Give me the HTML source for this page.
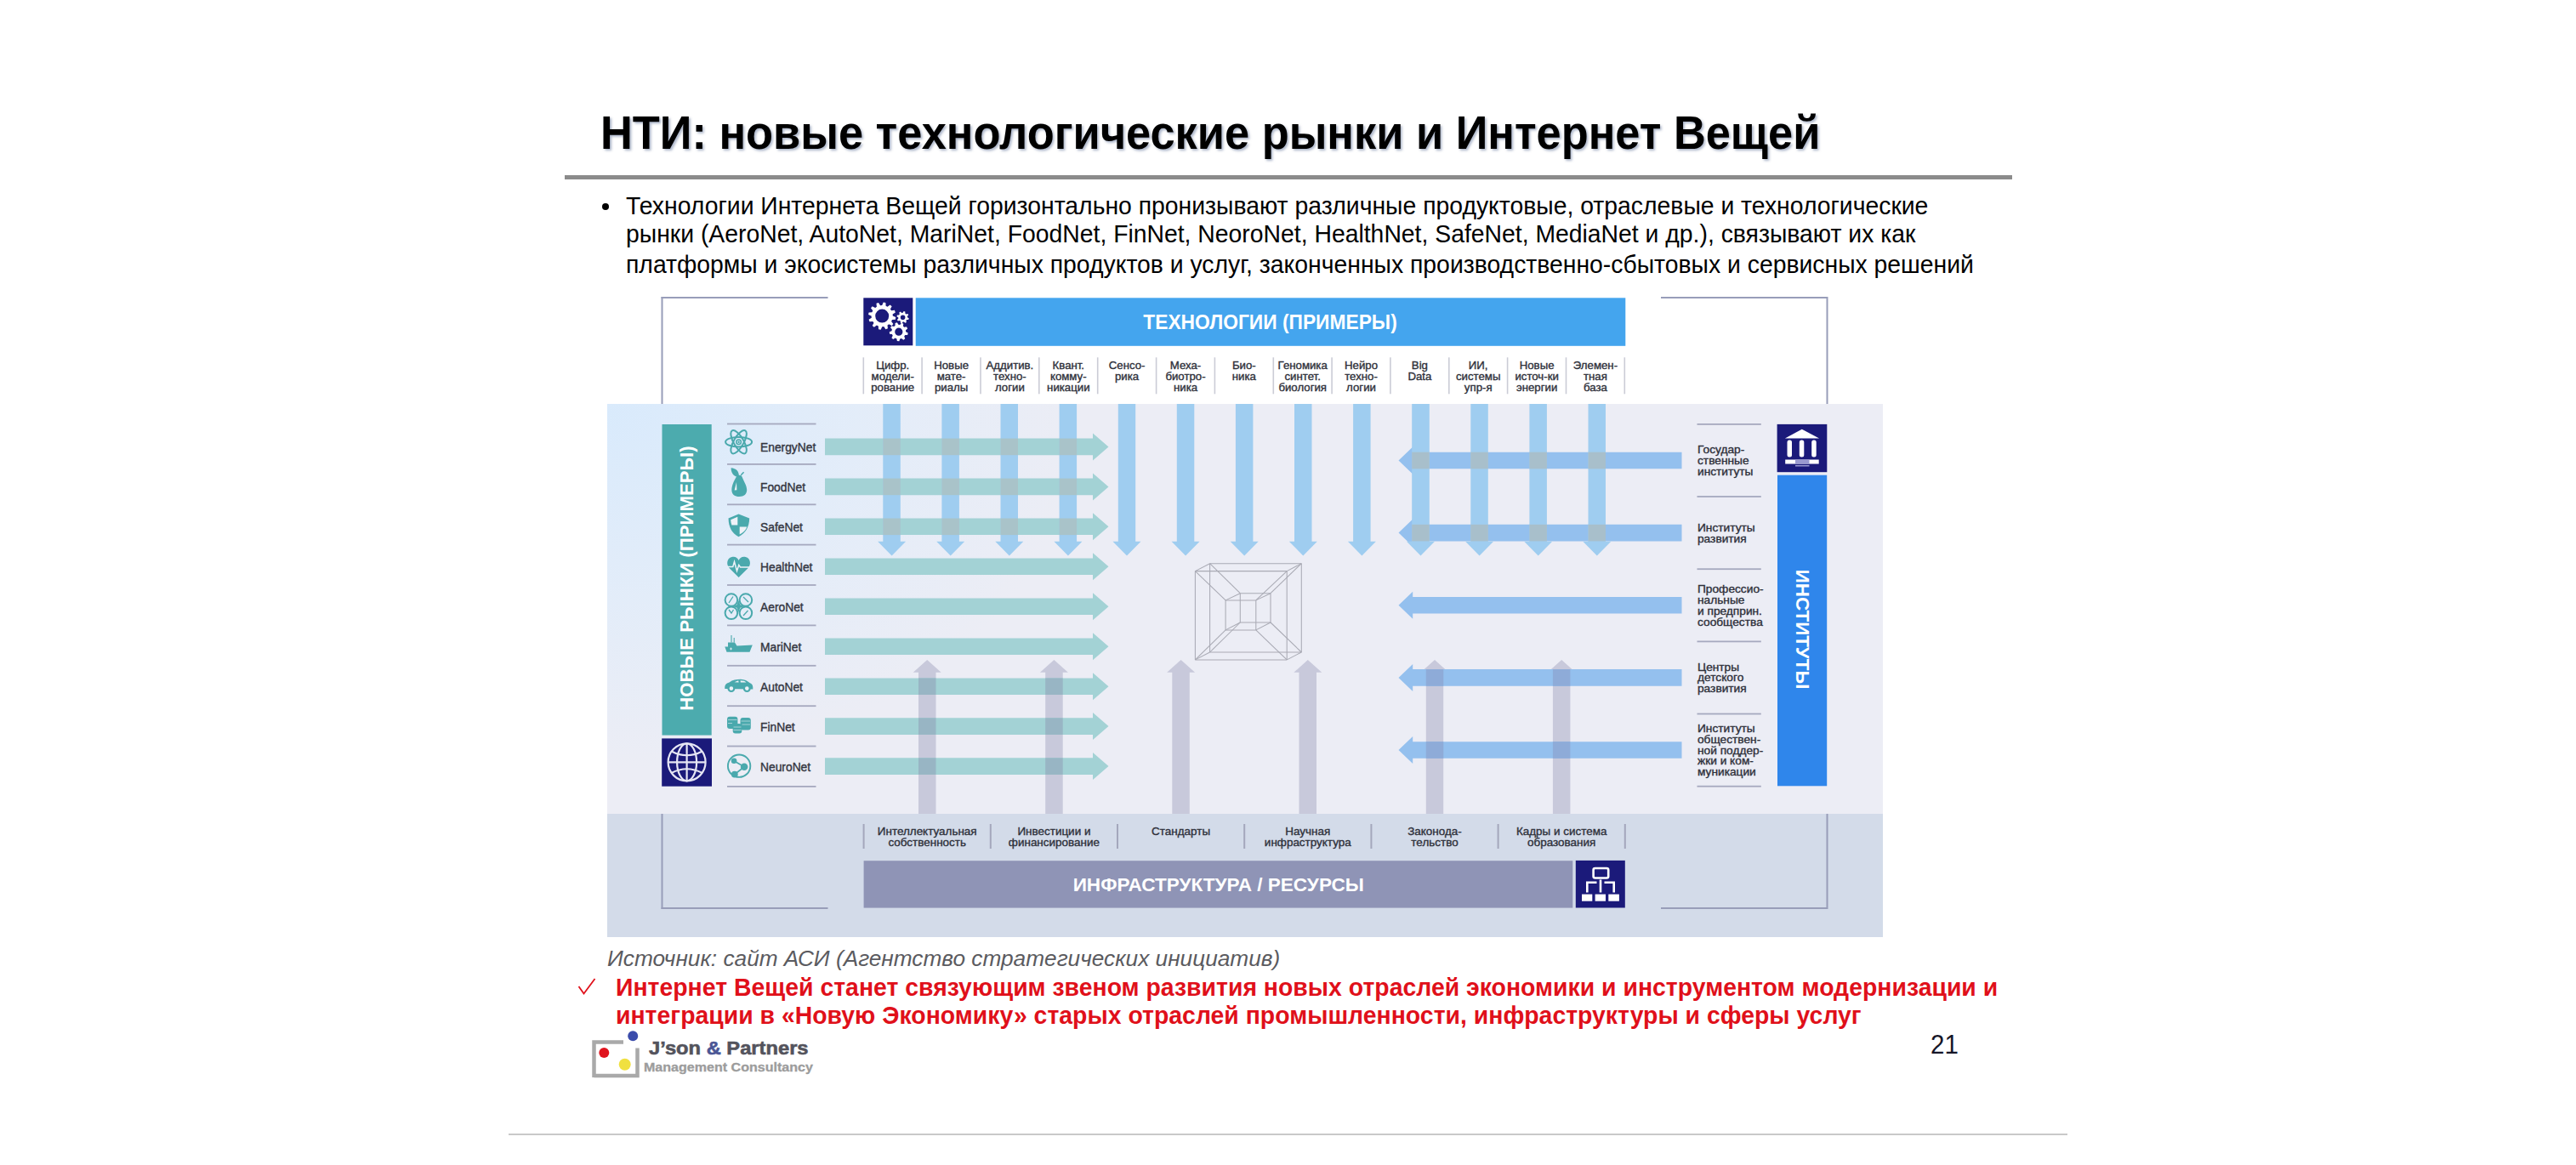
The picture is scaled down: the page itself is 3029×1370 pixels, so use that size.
<!DOCTYPE html>
<html><head><meta charset="utf-8"><style>
html,body{margin:0;padding:0;}
body{width:3029px;height:1370px;overflow:hidden;background:#fff;position:relative;font-family:"Liberation Sans",sans-serif;}
.abs{position:absolute;}
.t{position:absolute;white-space:nowrap;line-height:1;}
svg text{font-family:"Liberation Sans",sans-serif;}
</style></head><body>

<div class="t" style="left:706.0px;top:129.0px;font-size:55px;font-weight:bold;color:#000;text-shadow:2px 2px 3px rgba(90,110,150,0.5);transform:scaleX(0.952);transform-origin:0 0;">НТИ: новые технологические рынки и Интернет Вещей</div>
<div class="abs" style="left:664px;top:206px;width:1702px;height:5px;background:#8b8b8b;"></div>
<div class="abs" style="left:708px;top:238.5px;width:8px;height:8px;border-radius:50%;background:#000;"></div>
<div class="t" style="left:736.0px;top:227.2px;font-size:30.2px;font-weight:normal;color:#000;transform:scaleX(0.939);transform-origin:0 0;">Технологии Интернета Вещей горизонтально пронизывают различные продуктовые, отраслевые и технологические</div>
<div class="t" style="left:736.0px;top:259.9px;font-size:30.2px;font-weight:normal;color:#000;transform:scaleX(0.939);transform-origin:0 0;">рынки (AeroNet, AutoNet, MariNet, FoodNet, FinNet, NeoroNet, HealthNet, SafeNet, MediaNet и др.), связывают их как</div>
<div class="t" style="left:736.0px;top:295.6px;font-size:30.2px;font-weight:normal;color:#000;transform:scaleX(0.939);transform-origin:0 0;">платформы и экосистемы различных продуктов и услуг, законченных производственно-сбытовых и сервисных решений</div>
<div class="abs" style="left:713.5px;top:475px;width:1500.5px;height:482px;background:#ecedf5;overflow:hidden;"><div style="position:absolute;left:-560px;top:-410px;width:1120px;height:840px;background:radial-gradient(closest-side,rgba(216,234,252,0.95),rgba(220,236,252,0.6) 50%,rgba(236,237,245,0) 100%);"></div></div>
<div class="abs" style="left:713.5px;top:957px;width:1500.5px;height:145px;background:#d3dbe9;"></div>
<svg class="abs" style="left:0;top:0;" width="3029" height="1370">
<rect x="777.5" y="349" width="196" height="2" fill="#989db9"/>
<rect x="777.5" y="349" width="2" height="126" fill="#989db9"/>
<rect x="777.5" y="957" width="2" height="112" fill="#989db9"/>
<rect x="777.5" y="1067" width="196" height="2" fill="#989db9"/>
<rect x="1953" y="349" width="196" height="2" fill="#989db9"/>
<rect x="2147.5" y="349" width="2" height="126" fill="#989db9"/>
<rect x="2147.5" y="957" width="2" height="112" fill="#989db9"/>
<rect x="1953" y="1067" width="196" height="2" fill="#989db9"/>
<rect x="1015.3" y="350.3" width="58" height="56" fill="#1b1a7a"/>
<rect x="1076.7" y="350.3" width="834.6" height="56.5" fill="#44a5ee"/>
<text transform="translate(1493.5,386.5) scale(0.97,1)" text-anchor="middle" font-size="23.5" font-weight="bold" fill="#fff">ТЕХНОЛОГИИ (ПРИМЕРЫ)</text>
<path d="M1049.80,371.60 L1053.33,373.12 L1052.85,375.79 L1049.01,375.99 L1048.11,377.90 L1050.41,380.98 L1048.66,383.06 L1045.23,381.31 L1043.50,382.51 L1043.94,386.33 L1041.39,387.25 L1039.30,384.02 L1037.20,384.20 L1035.68,387.73 L1033.01,387.25 L1032.81,383.41 L1030.90,382.51 L1027.82,384.81 L1025.74,383.06 L1027.49,379.63 L1026.29,377.90 L1022.47,378.34 L1021.55,375.79 L1024.78,373.70 L1024.60,371.60 L1021.07,370.08 L1021.55,367.41 L1025.39,367.21 L1026.29,365.30 L1023.99,362.22 L1025.74,360.14 L1029.17,361.89 L1030.90,360.69 L1030.46,356.87 L1033.01,355.95 L1035.10,359.18 L1037.20,359.00 L1038.72,355.47 L1041.39,355.95 L1041.59,359.79 L1043.50,360.69 L1046.58,358.39 L1048.66,360.14 L1046.91,363.57 L1048.11,365.30 L1051.93,364.86 L1052.85,367.41 L1049.62,369.50Z M1045.20,371.60 A8.0,8.0 0 1,0 1029.20,371.60 A8.0,8.0 0 1,0 1045.20,371.60Z" fill="#fff" fill-rule="evenodd"/>
<path d="M1067.00,373.20 L1068.73,374.21 L1068.25,375.96 L1066.25,375.95 L1065.42,377.02 L1065.92,378.96 L1064.36,379.85 L1062.94,378.43 L1061.60,378.60 L1060.59,380.33 L1058.84,379.85 L1058.85,377.85 L1057.78,377.02 L1055.84,377.52 L1054.95,375.96 L1056.37,374.54 L1056.20,373.20 L1054.47,372.19 L1054.95,370.44 L1056.95,370.45 L1057.78,369.38 L1057.28,367.44 L1058.84,366.55 L1060.26,367.97 L1061.60,367.80 L1062.61,366.07 L1064.36,366.55 L1064.35,368.55 L1065.42,369.38 L1067.36,368.88 L1068.25,370.44 L1066.83,371.86Z M1064.40,373.20 A2.8,2.8 0 1,0 1058.80,373.20 A2.8,2.8 0 1,0 1064.40,373.20Z" fill="#fff" fill-rule="evenodd"/>
<path d="M1065.20,390.20 L1067.71,391.58 L1067.14,393.96 L1064.27,394.04 L1063.23,395.60 L1064.27,398.27 L1062.30,399.73 L1060.06,397.94 L1058.26,398.47 L1057.34,401.19 L1054.89,401.03 L1054.32,398.22 L1052.60,397.47 L1050.15,398.96 L1048.37,397.27 L1049.74,394.75 L1048.91,393.07 L1046.07,392.64 L1045.80,390.20 L1048.47,389.15 L1048.91,387.33 L1047.02,385.17 L1048.37,383.13 L1051.09,384.04 L1052.60,382.93 L1052.54,380.06 L1054.89,379.37 L1056.39,381.81 L1058.26,381.93 L1060.05,379.69 L1062.30,380.67 L1061.88,383.51 L1063.23,384.80 L1066.05,384.24 L1067.14,386.44 L1064.99,388.34Z M1061.40,390.20 A4.6,4.6 0 1,0 1052.20,390.20 A4.6,4.6 0 1,0 1061.40,390.20Z" fill="#fff" fill-rule="evenodd"/>
<rect x="1014.5" y="420.3" width="1.6" height="43" fill="#cbccd6"/>
<rect x="1083.3" y="420.3" width="1.6" height="43" fill="#cbccd6"/>
<rect x="1152.2" y="420.3" width="1.6" height="43" fill="#cbccd6"/>
<rect x="1221.0" y="420.3" width="1.6" height="43" fill="#cbccd6"/>
<rect x="1289.9" y="420.3" width="1.6" height="43" fill="#cbccd6"/>
<rect x="1358.8" y="420.3" width="1.6" height="43" fill="#cbccd6"/>
<rect x="1427.6" y="420.3" width="1.6" height="43" fill="#cbccd6"/>
<rect x="1496.5" y="420.3" width="1.6" height="43" fill="#cbccd6"/>
<rect x="1565.3" y="420.3" width="1.6" height="43" fill="#cbccd6"/>
<rect x="1634.1" y="420.3" width="1.6" height="43" fill="#cbccd6"/>
<rect x="1703.0" y="420.3" width="1.6" height="43" fill="#cbccd6"/>
<rect x="1771.8" y="420.3" width="1.6" height="43" fill="#cbccd6"/>
<rect x="1840.7" y="420.3" width="1.6" height="43" fill="#cbccd6"/>
<rect x="1909.5" y="420.3" width="1.6" height="43" fill="#cbccd6"/>
<text transform="translate(1049.7,434.4) scale(1.05,1)" text-anchor="middle" font-size="12.6" font-weight="normal" fill="#2e303a" stroke="#2e303a" stroke-width="0.35">Цифр.</text>
<text transform="translate(1049.7,447.2) scale(1.05,1)" text-anchor="middle" font-size="12.6" font-weight="normal" fill="#2e303a" stroke="#2e303a" stroke-width="0.35">модели-</text>
<text transform="translate(1049.7,460.0) scale(1.05,1)" text-anchor="middle" font-size="12.6" font-weight="normal" fill="#2e303a" stroke="#2e303a" stroke-width="0.35">рование</text>
<text transform="translate(1118.6,434.4) scale(1.05,1)" text-anchor="middle" font-size="12.6" font-weight="normal" fill="#2e303a" stroke="#2e303a" stroke-width="0.35">Новые</text>
<text transform="translate(1118.6,447.2) scale(1.05,1)" text-anchor="middle" font-size="12.6" font-weight="normal" fill="#2e303a" stroke="#2e303a" stroke-width="0.35">мате-</text>
<text transform="translate(1118.6,460.0) scale(1.05,1)" text-anchor="middle" font-size="12.6" font-weight="normal" fill="#2e303a" stroke="#2e303a" stroke-width="0.35">риалы</text>
<text transform="translate(1187.4,434.4) scale(1.05,1)" text-anchor="middle" font-size="12.6" font-weight="normal" fill="#2e303a" stroke="#2e303a" stroke-width="0.35">Аддитив.</text>
<text transform="translate(1187.4,447.2) scale(1.05,1)" text-anchor="middle" font-size="12.6" font-weight="normal" fill="#2e303a" stroke="#2e303a" stroke-width="0.35">техно-</text>
<text transform="translate(1187.4,460.0) scale(1.05,1)" text-anchor="middle" font-size="12.6" font-weight="normal" fill="#2e303a" stroke="#2e303a" stroke-width="0.35">логии</text>
<text transform="translate(1256.3,434.4) scale(1.05,1)" text-anchor="middle" font-size="12.6" font-weight="normal" fill="#2e303a" stroke="#2e303a" stroke-width="0.35">Квант.</text>
<text transform="translate(1256.3,447.2) scale(1.05,1)" text-anchor="middle" font-size="12.6" font-weight="normal" fill="#2e303a" stroke="#2e303a" stroke-width="0.35">комму-</text>
<text transform="translate(1256.3,460.0) scale(1.05,1)" text-anchor="middle" font-size="12.6" font-weight="normal" fill="#2e303a" stroke="#2e303a" stroke-width="0.35">никации</text>
<text transform="translate(1325.1,434.4) scale(1.05,1)" text-anchor="middle" font-size="12.6" font-weight="normal" fill="#2e303a" stroke="#2e303a" stroke-width="0.35">Сенсо-</text>
<text transform="translate(1325.1,447.2) scale(1.05,1)" text-anchor="middle" font-size="12.6" font-weight="normal" fill="#2e303a" stroke="#2e303a" stroke-width="0.35">рика</text>
<text transform="translate(1394.0,434.4) scale(1.05,1)" text-anchor="middle" font-size="12.6" font-weight="normal" fill="#2e303a" stroke="#2e303a" stroke-width="0.35">Меха-</text>
<text transform="translate(1394.0,447.2) scale(1.05,1)" text-anchor="middle" font-size="12.6" font-weight="normal" fill="#2e303a" stroke="#2e303a" stroke-width="0.35">биотро-</text>
<text transform="translate(1394.0,460.0) scale(1.05,1)" text-anchor="middle" font-size="12.6" font-weight="normal" fill="#2e303a" stroke="#2e303a" stroke-width="0.35">ника</text>
<text transform="translate(1462.8,434.4) scale(1.05,1)" text-anchor="middle" font-size="12.6" font-weight="normal" fill="#2e303a" stroke="#2e303a" stroke-width="0.35">Био-</text>
<text transform="translate(1462.8,447.2) scale(1.05,1)" text-anchor="middle" font-size="12.6" font-weight="normal" fill="#2e303a" stroke="#2e303a" stroke-width="0.35">ника</text>
<text transform="translate(1531.7,434.4) scale(1.05,1)" text-anchor="middle" font-size="12.6" font-weight="normal" fill="#2e303a" stroke="#2e303a" stroke-width="0.35">Геномика</text>
<text transform="translate(1531.7,447.2) scale(1.05,1)" text-anchor="middle" font-size="12.6" font-weight="normal" fill="#2e303a" stroke="#2e303a" stroke-width="0.35">синтет.</text>
<text transform="translate(1531.7,460.0) scale(1.05,1)" text-anchor="middle" font-size="12.6" font-weight="normal" fill="#2e303a" stroke="#2e303a" stroke-width="0.35">биология</text>
<text transform="translate(1600.5,434.4) scale(1.05,1)" text-anchor="middle" font-size="12.6" font-weight="normal" fill="#2e303a" stroke="#2e303a" stroke-width="0.35">Нейро</text>
<text transform="translate(1600.5,447.2) scale(1.05,1)" text-anchor="middle" font-size="12.6" font-weight="normal" fill="#2e303a" stroke="#2e303a" stroke-width="0.35">техно-</text>
<text transform="translate(1600.5,460.0) scale(1.05,1)" text-anchor="middle" font-size="12.6" font-weight="normal" fill="#2e303a" stroke="#2e303a" stroke-width="0.35">логии</text>
<text transform="translate(1669.4,434.4) scale(1.05,1)" text-anchor="middle" font-size="12.6" font-weight="normal" fill="#2e303a" stroke="#2e303a" stroke-width="0.35">Big</text>
<text transform="translate(1669.4,447.2) scale(1.05,1)" text-anchor="middle" font-size="12.6" font-weight="normal" fill="#2e303a" stroke="#2e303a" stroke-width="0.35">Data</text>
<text transform="translate(1738.2,434.4) scale(1.05,1)" text-anchor="middle" font-size="12.6" font-weight="normal" fill="#2e303a" stroke="#2e303a" stroke-width="0.35">ИИ,</text>
<text transform="translate(1738.2,447.2) scale(1.05,1)" text-anchor="middle" font-size="12.6" font-weight="normal" fill="#2e303a" stroke="#2e303a" stroke-width="0.35">системы</text>
<text transform="translate(1738.2,460.0) scale(1.05,1)" text-anchor="middle" font-size="12.6" font-weight="normal" fill="#2e303a" stroke="#2e303a" stroke-width="0.35">упр-я</text>
<text transform="translate(1807.1,434.4) scale(1.05,1)" text-anchor="middle" font-size="12.6" font-weight="normal" fill="#2e303a" stroke="#2e303a" stroke-width="0.35">Новые</text>
<text transform="translate(1807.1,447.2) scale(1.05,1)" text-anchor="middle" font-size="12.6" font-weight="normal" fill="#2e303a" stroke="#2e303a" stroke-width="0.35">источ-ки</text>
<text transform="translate(1807.1,460.0) scale(1.05,1)" text-anchor="middle" font-size="12.6" font-weight="normal" fill="#2e303a" stroke="#2e303a" stroke-width="0.35">энергии</text>
<text transform="translate(1875.9,434.4) scale(1.05,1)" text-anchor="middle" font-size="12.6" font-weight="normal" fill="#2e303a" stroke="#2e303a" stroke-width="0.35">Элемен-</text>
<text transform="translate(1875.9,447.2) scale(1.05,1)" text-anchor="middle" font-size="12.6" font-weight="normal" fill="#2e303a" stroke="#2e303a" stroke-width="0.35">тная</text>
<text transform="translate(1875.9,460.0) scale(1.05,1)" text-anchor="middle" font-size="12.6" font-weight="normal" fill="#2e303a" stroke="#2e303a" stroke-width="0.35">база</text>
<polygon points="1080.0,957 1100.5,957 1100.5,790.8 1106.7,790.8 1090.2,776 1073.7,790.8 1080.0,790.8" fill="#c8c9db"/>
<polygon points="1229.2,957 1249.7,957 1249.7,790.8 1255.9,790.8 1239.4,776 1222.9,790.8 1229.2,790.8" fill="#c8c9db"/>
<polygon points="1378.3,957 1398.8,957 1398.8,790.8 1405.1,790.8 1388.6,776 1372.1,790.8 1378.3,790.8" fill="#c8c9db"/>
<polygon points="1527.5,957 1548.0,957 1548.0,790.8 1554.3,790.8 1537.8,776 1521.3,790.8 1527.5,790.8" fill="#c8c9db"/>
<polygon points="1676.8,957 1697.2,957 1697.2,790.8 1703.5,790.8 1687.0,776 1670.5,790.8 1676.8,790.8" fill="#c8c9db"/>
<polygon points="1825.9,957 1846.4,957 1846.4,790.8 1852.7,790.8 1836.2,776 1819.7,790.8 1825.9,790.8" fill="#c8c9db"/>
<polygon points="970,515.6 1285,515.6 1285,509.4 1303.5,525.4 1285,541.4 1285,535.2 970,535.2" fill="#a3d2d5"/>
<polygon points="970,562.6 1285,562.6 1285,556.4 1303.5,572.4 1285,588.4 1285,582.2 970,582.2" fill="#a3d2d5"/>
<polygon points="970,609.5 1285,609.5 1285,603.3 1303.5,619.3 1285,635.3 1285,629.1 970,629.1" fill="#a3d2d5"/>
<polygon points="970,656.5 1285,656.5 1285,650.3 1303.5,666.3 1285,682.3 1285,676.1 970,676.1" fill="#a3d2d5"/>
<polygon points="970,703.4 1285,703.4 1285,697.2 1303.5,713.2 1285,729.2 1285,723.0 970,723.0" fill="#a3d2d5"/>
<polygon points="970,750.4 1285,750.4 1285,744.2 1303.5,760.2 1285,776.2 1285,770.0 970,770.0" fill="#a3d2d5"/>
<polygon points="970,797.4 1285,797.4 1285,791.2 1303.5,807.2 1285,823.2 1285,817.0 970,817.0" fill="#a3d2d5"/>
<polygon points="970,844.3 1285,844.3 1285,838.1 1303.5,854.1 1285,870.1 1285,863.9 970,863.9" fill="#a3d2d5"/>
<polygon points="970,891.3 1285,891.3 1285,885.1 1303.5,901.1 1285,917.1 1285,910.9 970,910.9" fill="#a3d2d5"/>
<polygon points="1977.5,531.7 1661.2,531.7 1661.2,525.5 1644.5,541.5 1661.2,557.5 1661.2,551.3 1977.5,551.3" fill="#94c0ee"/>
<polygon points="1977.5,616.8 1661.2,616.8 1661.2,610.6 1644.5,626.6 1661.2,642.6 1661.2,636.4 1977.5,636.4" fill="#94c0ee"/>
<polygon points="1977.5,701.9 1661.2,701.9 1661.2,695.7 1644.5,711.7 1661.2,727.7 1661.2,721.5 1977.5,721.5" fill="#94c0ee"/>
<polygon points="1977.5,787.1 1661.2,787.1 1661.2,780.9 1644.5,796.9 1661.2,812.9 1661.2,806.7 1977.5,806.7" fill="#94c0ee"/>
<polygon points="1977.5,872.2 1661.2,872.2 1661.2,866.0 1644.5,882.0 1661.2,898.0 1661.2,891.8 1977.5,891.8" fill="#94c0ee"/>
<polygon points="1038.3,475 1058.8,475 1058.8,636.8 1065.1,636.8 1048.6,653.5 1032.1,636.8 1038.3,636.8" fill="#9fcdf0"/>
<polygon points="1107.4,475 1127.9,475 1127.9,636.8 1134.2,636.8 1117.7,653.5 1101.2,636.8 1107.4,636.8" fill="#9fcdf0"/>
<polygon points="1176.5,475 1197.0,475 1197.0,636.8 1203.3,636.8 1186.8,653.5 1170.3,636.8 1176.5,636.8" fill="#9fcdf0"/>
<polygon points="1245.6,475 1266.1,475 1266.1,636.8 1272.4,636.8 1255.9,653.5 1239.4,636.8 1245.6,636.8" fill="#9fcdf0"/>
<polygon points="1314.8,475 1335.2,475 1335.2,636.8 1341.5,636.8 1325.0,653.5 1308.5,636.8 1314.8,636.8" fill="#9fcdf0"/>
<polygon points="1383.8,475 1404.3,475 1404.3,636.8 1410.6,636.8 1394.1,653.5 1377.6,636.8 1383.8,636.8" fill="#9fcdf0"/>
<polygon points="1452.9,475 1473.4,475 1473.4,636.8 1479.7,636.8 1463.2,653.5 1446.7,636.8 1452.9,636.8" fill="#9fcdf0"/>
<polygon points="1522.0,475 1542.5,475 1542.5,636.8 1548.8,636.8 1532.3,653.5 1515.8,636.8 1522.0,636.8" fill="#9fcdf0"/>
<polygon points="1591.1,475 1611.6,475 1611.6,636.8 1617.9,636.8 1601.4,653.5 1584.9,636.8 1591.1,636.8" fill="#9fcdf0"/>
<polygon points="1660.2,475 1680.8,475 1680.8,636.8 1687.0,636.8 1670.5,653.5 1654.0,636.8 1660.2,636.8" fill="#9fcdf0"/>
<polygon points="1729.3,475 1749.8,475 1749.8,636.8 1756.1,636.8 1739.6,653.5 1723.1,636.8 1729.3,636.8" fill="#9fcdf0"/>
<polygon points="1798.4,475 1818.9,475 1818.9,636.8 1825.2,636.8 1808.7,653.5 1792.2,636.8 1798.4,636.8" fill="#9fcdf0"/>
<polygon points="1867.5,475 1888.0,475 1888.0,636.8 1894.3,636.8 1877.8,653.5 1861.3,636.8 1867.5,636.8" fill="#9fcdf0"/>
<rect x="1038.3" y="515.6" width="20.5" height="19.6" fill="#a9c3c9"/>
<rect x="1038.3" y="562.6" width="20.5" height="19.6" fill="#a9c3c9"/>
<rect x="1038.3" y="609.5" width="20.5" height="19.6" fill="#a9c3c9"/>
<rect x="1107.4" y="515.6" width="20.5" height="19.6" fill="#a9c3c9"/>
<rect x="1107.4" y="562.6" width="20.5" height="19.6" fill="#a9c3c9"/>
<rect x="1107.4" y="609.5" width="20.5" height="19.6" fill="#a9c3c9"/>
<rect x="1176.5" y="515.6" width="20.5" height="19.6" fill="#a9c3c9"/>
<rect x="1176.5" y="562.6" width="20.5" height="19.6" fill="#a9c3c9"/>
<rect x="1176.5" y="609.5" width="20.5" height="19.6" fill="#a9c3c9"/>
<rect x="1245.6" y="515.6" width="20.5" height="19.6" fill="#a9c3c9"/>
<rect x="1245.6" y="562.6" width="20.5" height="19.6" fill="#a9c3c9"/>
<rect x="1245.6" y="609.5" width="20.5" height="19.6" fill="#a9c3c9"/>
<rect x="1660.2" y="531.7" width="20.5" height="19.6" fill="#a8bfcb"/>
<rect x="1660.2" y="616.8" width="20.5" height="19.6" fill="#a8bfcb"/>
<rect x="1729.3" y="531.7" width="20.5" height="19.6" fill="#a8bfcb"/>
<rect x="1729.3" y="616.8" width="20.5" height="19.6" fill="#a8bfcb"/>
<rect x="1798.4" y="531.7" width="20.5" height="19.6" fill="#a8bfcb"/>
<rect x="1798.4" y="616.8" width="20.5" height="19.6" fill="#a8bfcb"/>
<rect x="1867.5" y="531.7" width="20.5" height="19.6" fill="#a8bfcb"/>
<rect x="1867.5" y="616.8" width="20.5" height="19.6" fill="#a8bfcb"/>
<rect x="1080.0" y="797.4" width="20.5" height="19.6" fill="#98b5c4"/>
<rect x="1080.0" y="844.3" width="20.5" height="19.6" fill="#98b5c4"/>
<rect x="1080.0" y="891.3" width="20.5" height="19.6" fill="#98b5c4"/>
<rect x="1229.2" y="797.4" width="20.5" height="19.6" fill="#98b5c4"/>
<rect x="1229.2" y="844.3" width="20.5" height="19.6" fill="#98b5c4"/>
<rect x="1229.2" y="891.3" width="20.5" height="19.6" fill="#98b5c4"/>
<rect x="1676.8" y="787.1" width="20.5" height="19.6" fill="#8eabd8"/>
<rect x="1676.8" y="872.2" width="20.5" height="19.6" fill="#8eabd8"/>
<rect x="1825.9" y="787.1" width="20.5" height="19.6" fill="#8eabd8"/>
<rect x="1825.9" y="872.2" width="20.5" height="19.6" fill="#8eabd8"/>
<g stroke="#a9aab4" stroke-width="1.05" fill="none">
<line x1="1405.4" y1="671.6" x2="1513.2" y2="671.6"/>
<line x1="1513.2" y1="671.6" x2="1513.2" y2="775.9"/>
<line x1="1513.2" y1="775.9" x2="1405.4" y2="775.9"/>
<line x1="1405.4" y1="775.9" x2="1405.4" y2="671.6"/>
<line x1="1422.6" y1="662.7" x2="1530.3" y2="662.7"/>
<line x1="1530.3" y1="662.7" x2="1530.3" y2="767.0"/>
<line x1="1530.3" y1="767.0" x2="1422.6" y2="767.0"/>
<line x1="1422.6" y1="767.0" x2="1422.6" y2="662.7"/>
<line x1="1441.1" y1="705.9" x2="1476.8" y2="705.9"/>
<line x1="1476.8" y1="705.9" x2="1476.8" y2="740.9"/>
<line x1="1476.8" y1="740.9" x2="1441.1" y2="740.9"/>
<line x1="1441.1" y1="740.9" x2="1441.1" y2="705.9"/>
<line x1="1458.3" y1="697.7" x2="1494.0" y2="697.7"/>
<line x1="1494.0" y1="697.7" x2="1494.0" y2="732.0"/>
<line x1="1494.0" y1="732.0" x2="1458.3" y2="732.0"/>
<line x1="1458.3" y1="732.0" x2="1458.3" y2="697.7"/>
<line x1="1405.4" y1="671.6" x2="1422.6" y2="662.7"/>
<line x1="1441.1" y1="705.9" x2="1458.3" y2="697.7"/>
<line x1="1405.4" y1="671.6" x2="1441.1" y2="705.9"/>
<line x1="1422.6" y1="662.7" x2="1458.3" y2="697.7"/>
<line x1="1513.2" y1="671.6" x2="1530.3" y2="662.7"/>
<line x1="1476.8" y1="705.9" x2="1494.0" y2="697.7"/>
<line x1="1513.2" y1="671.6" x2="1476.8" y2="705.9"/>
<line x1="1530.3" y1="662.7" x2="1494.0" y2="697.7"/>
<line x1="1513.2" y1="775.9" x2="1530.3" y2="767.0"/>
<line x1="1476.8" y1="740.9" x2="1494.0" y2="732.0"/>
<line x1="1513.2" y1="775.9" x2="1476.8" y2="740.9"/>
<line x1="1530.3" y1="767.0" x2="1494.0" y2="732.0"/>
<line x1="1405.4" y1="775.9" x2="1422.6" y2="767.0"/>
<line x1="1441.1" y1="740.9" x2="1458.3" y2="732.0"/>
<line x1="1405.4" y1="775.9" x2="1441.1" y2="740.9"/>
<line x1="1422.6" y1="767.0" x2="1458.3" y2="732.0"/>
</g>
<rect x="855" y="497.6" width="104.5" height="1.8" fill="#a6a9bf"/>
<rect x="855" y="545.0" width="104.5" height="1.8" fill="#a6a9bf"/>
<rect x="855" y="592.4" width="104.5" height="1.8" fill="#a6a9bf"/>
<rect x="855" y="639.7" width="104.5" height="1.8" fill="#a6a9bf"/>
<rect x="855" y="687.1" width="104.5" height="1.8" fill="#a6a9bf"/>
<rect x="855" y="734.5" width="104.5" height="1.8" fill="#a6a9bf"/>
<rect x="855" y="781.9" width="104.5" height="1.8" fill="#a6a9bf"/>
<rect x="855" y="829.3" width="104.5" height="1.8" fill="#a6a9bf"/>
<rect x="855" y="876.6" width="104.5" height="1.8" fill="#a6a9bf"/>
<rect x="855" y="924.0" width="104.5" height="1.8" fill="#a6a9bf"/>
<rect x="1995.5" y="498.0" width="75.3" height="1.8" fill="#a6a9bf"/>
<rect x="1995.5" y="583.1" width="75.3" height="1.8" fill="#a6a9bf"/>
<rect x="1995.5" y="668.3" width="75.3" height="1.8" fill="#a6a9bf"/>
<rect x="1995.5" y="753.5" width="75.3" height="1.8" fill="#a6a9bf"/>
<rect x="1995.5" y="838.6" width="75.3" height="1.8" fill="#a6a9bf"/>
<rect x="1995.5" y="923.8" width="75.3" height="1.8" fill="#a6a9bf"/>
<rect x="1014.6" y="969" width="2" height="29" fill="#a4a7bc"/>
<rect x="1163.8" y="969" width="2" height="29" fill="#a4a7bc"/>
<rect x="1313.0" y="969" width="2" height="29" fill="#a4a7bc"/>
<rect x="1462.2" y="969" width="2" height="29" fill="#a4a7bc"/>
<rect x="1611.4" y="969" width="2" height="29" fill="#a4a7bc"/>
<rect x="1760.6" y="969" width="2" height="29" fill="#a4a7bc"/>
<rect x="1909.8" y="969" width="2" height="29" fill="#a4a7bc"/>
<rect x="778.5" y="499" width="58.2" height="365.6" fill="#4cabae"/>
<text transform="translate(814.6,680) rotate(-90)" text-anchor="middle" font-size="22.2" font-weight="bold" fill="#fff">НОВЫЕ РЫНКИ (ПРИМЕРЫ)</text>
<rect x="778.2" y="868.4" width="58.8" height="56.3" fill="#1b1a7a"/>
<g stroke="#e6e6f4" stroke-width="2.2" fill="none"><circle cx="807.6" cy="896.3" r="22"/><ellipse cx="807.6" cy="896.3" rx="11.5" ry="22"/><line x1="807.6" y1="874.3" x2="807.6" y2="918.3"/><line x1="785.6" y1="896.3" x2="829.6" y2="896.3"/><path d="M789.5,883.5 Q807.6,893 825.7,883.5"/><path d="M789.5,909 Q807.6,899.5 825.7,909"/></g>
<g fill="none" stroke="#4aa9ad" stroke-width="2"><ellipse cx="868.6" cy="519.7" rx="15.5" ry="5.8"/><ellipse cx="868.6" cy="519.7" rx="15.5" ry="5.8" transform="rotate(60 868.6 519.7)"/><ellipse cx="868.6" cy="519.7" rx="15.5" ry="5.8" transform="rotate(120 868.6 519.7)"/><circle cx="868.6" cy="519.7" r="2.8" stroke-width="1.5"/></g><circle cx="868.6" cy="519.7" r="1.2" fill="#4aa9ad"/>
<path d="M866.5,559.5 C862,567 860.2,572 860.4,577 C860.7,581.5 864,584 869.3,584 C874.8,584 878.3,581 878.2,576 C878,570.5 874.5,566 872,559.5 C870,558.5 868,558.5 866.5,559.5 Z" fill="#4aa9ad"/><path d="M868.8,561 C862.5,560.5 859.5,556 859.6,550.2 C865.5,550.5 869.5,554.5 868.8,561 Z" fill="#4aa9ad"/><path d="M871.2,558.7 L874.6,555.2" stroke="#4aa9ad" stroke-width="1.5"/><path d="M866,567 L863.6,576.6 L866.4,576.2 Z" fill="#eef2f8"/>
<path d="M856.5,609.6 L868.5,604.6 L881.2,609.6 C881,620 876.5,627 868.5,631.2 C860.5,627 856.7,620 856.5,609.6 Z" fill="#4aa9ad"/><path d="M859.2,611.2 L867.3,607.8 L867.3,617.6 L860.4,617.6 C859.7,615.7 859.3,613.5 859.2,611.2 Z" fill="#eef2f8"/><path d="M869.7,619.6 L878.3,619.6 C876.8,623.8 873.8,626.6 869.7,628.6 Z" fill="#eef2f8"/>
<path d="M868.6,679 L858,668.5 C853.5,664 854.5,656.5 860.5,655 C864.5,654 867.3,656 868.6,659 C869.9,656 872.7,654 876.7,655 C882.7,656.5 883.7,664 879.2,668.5 Z" fill="#4aa9ad"/><path d="M855.5,666.5 L861.8,666.5 L863.5,660.5 L866.5,671.5 L868.8,664.5 L870.5,667 L881.5,667" stroke="#eef2f8" stroke-width="1.5" fill="none"/>
<g stroke="#4aa9ad" stroke-width="2" fill="none"><circle cx="859.9" cy="705.5" r="7.3"/><circle cx="876.9" cy="705.5" r="7.3"/><circle cx="859.9" cy="720.8" r="7.3"/><circle cx="876.9" cy="720.8" r="7.3"/></g><g stroke="#4aa9ad" stroke-width="1.3" fill="none"><path d="M857,709 L862,701.5 M874,702 L880,708 M857,717 L860,721 L862.5,717 M874,724 L879.5,718"/></g><path d="M868.4,706 L871,713 L868.4,720 L865.8,713 Z M861.5,713 L868.4,710.5 L875.3,713 L868.4,715.5 Z" fill="#4aa9ad"/>
<path d="M852.3,760.5 L856,760.5 L856,755.5 L864,755.5 L866.5,759.5 L884.8,758.5 L881.5,766.7 L854.5,766.7 Z" fill="#4aa9ad"/><path d="M860,755.5 L860,747 M863.2,755.5 L863.2,750" stroke="#4aa9ad" stroke-width="1.1"/><path d="M858,763 H861 M859.5,761.5 V764.5" stroke="#eef2f8" stroke-width="0.8"/>
<path d="M852.3,810 C852,805.5 853.5,803.5 857.5,802.5 C861.5,799.5 865.5,798.8 871,798.8 C875.5,798.8 879,801 881.5,803 C884.5,804 885.3,806 885.3,808.5 L885.3,810.5 Z" fill="#4aa9ad"/><circle cx="859.9" cy="809.6" r="3.4" fill="#eef2f8" stroke="#4aa9ad" stroke-width="2.2"/><circle cx="878.3" cy="809.6" r="3.4" fill="#eef2f8" stroke="#4aa9ad" stroke-width="2.2"/><path d="M863.5,802.3 L868.2,800.3 L868.6,802.6 Z M870.6,800.2 C874,800.2 876,801 877.5,802.6 L870.8,802.6 Z" fill="#eef2f8"/>
<g fill="#4aa9ad"><rect x="855" y="842.7" width="12.4" height="14.4" rx="3"/><rect x="870.5" y="844.1" width="12.3" height="14.4" rx="3"/><rect x="861.7" y="851.1" width="10.6" height="11.3" rx="3"/></g><g stroke="#eef2f8" stroke-width="0.7" opacity="0.8"><path d="M856,846.5 H866.5 M871.5,848 H882 M862.5,855 H871.5 M862.5,858.5 H871.5 M856,850.5 H861 M872.5,852 H882"/></g>
<circle cx="869.1" cy="900.7" r="13.2" fill="none" stroke="#4aa9ad" stroke-width="1.9"/><path d="M863.1,894.8 L875.1,901.8 L863.8,910.6" stroke="#4aa9ad" stroke-width="1.8" fill="none"/><circle cx="863.1" cy="894.8" r="3.3" fill="#4aa9ad"/><circle cx="875.1" cy="901.8" r="4.3" fill="#4aa9ad"/><circle cx="863.8" cy="910.6" r="3.9" fill="#4aa9ad"/>
<text transform="translate(894.0,530.8) scale(0.91,1)" text-anchor="start" font-size="15.2" font-weight="normal" fill="#33353f" stroke="#33353f" stroke-width="0.4">EnergyNet</text>
<text transform="translate(894.0,577.8) scale(0.91,1)" text-anchor="start" font-size="15.2" font-weight="normal" fill="#33353f" stroke="#33353f" stroke-width="0.4">FoodNet</text>
<text transform="translate(894.0,624.7) scale(0.91,1)" text-anchor="start" font-size="15.2" font-weight="normal" fill="#33353f" stroke="#33353f" stroke-width="0.4">SafeNet</text>
<text transform="translate(894.0,671.7) scale(0.91,1)" text-anchor="start" font-size="15.2" font-weight="normal" fill="#33353f" stroke="#33353f" stroke-width="0.4">HealthNet</text>
<text transform="translate(894.0,718.6) scale(0.91,1)" text-anchor="start" font-size="15.2" font-weight="normal" fill="#33353f" stroke="#33353f" stroke-width="0.4">AeroNet</text>
<text transform="translate(894.0,765.6) scale(0.91,1)" text-anchor="start" font-size="15.2" font-weight="normal" fill="#33353f" stroke="#33353f" stroke-width="0.4">MariNet</text>
<text transform="translate(894.0,812.6) scale(0.91,1)" text-anchor="start" font-size="15.2" font-weight="normal" fill="#33353f" stroke="#33353f" stroke-width="0.4">AutoNet</text>
<text transform="translate(894.0,859.5) scale(0.91,1)" text-anchor="start" font-size="15.2" font-weight="normal" fill="#33353f" stroke="#33353f" stroke-width="0.4">FinNet</text>
<text transform="translate(894.0,906.5) scale(0.91,1)" text-anchor="start" font-size="15.2" font-weight="normal" fill="#33353f" stroke="#33353f" stroke-width="0.4">NeuroNet</text>
<text transform="translate(1996.0,533.1) scale(1.09,1)" text-anchor="start" font-size="12.6" font-weight="normal" fill="#2e303a" stroke="#2e303a" stroke-width="0.35">Государ-</text>
<text transform="translate(1996.0,546.0) scale(1.09,1)" text-anchor="start" font-size="12.6" font-weight="normal" fill="#2e303a" stroke="#2e303a" stroke-width="0.35">ственные</text>
<text transform="translate(1996.0,558.9) scale(1.09,1)" text-anchor="start" font-size="12.6" font-weight="normal" fill="#2e303a" stroke="#2e303a" stroke-width="0.35">институты</text>
<text transform="translate(1996.0,624.7) scale(1.09,1)" text-anchor="start" font-size="12.6" font-weight="normal" fill="#2e303a" stroke="#2e303a" stroke-width="0.35">Институты</text>
<text transform="translate(1996.0,637.6) scale(1.09,1)" text-anchor="start" font-size="12.6" font-weight="normal" fill="#2e303a" stroke="#2e303a" stroke-width="0.35">развития</text>
<text transform="translate(1996.0,696.9) scale(1.09,1)" text-anchor="start" font-size="12.6" font-weight="normal" fill="#2e303a" stroke="#2e303a" stroke-width="0.35">Профессио-</text>
<text transform="translate(1996.0,709.8) scale(1.09,1)" text-anchor="start" font-size="12.6" font-weight="normal" fill="#2e303a" stroke="#2e303a" stroke-width="0.35">нальные</text>
<text transform="translate(1996.0,722.7) scale(1.09,1)" text-anchor="start" font-size="12.6" font-weight="normal" fill="#2e303a" stroke="#2e303a" stroke-width="0.35">и предприн.</text>
<text transform="translate(1996.0,735.6) scale(1.09,1)" text-anchor="start" font-size="12.6" font-weight="normal" fill="#2e303a" stroke="#2e303a" stroke-width="0.35">сообщества</text>
<text transform="translate(1996.0,788.5) scale(1.09,1)" text-anchor="start" font-size="12.6" font-weight="normal" fill="#2e303a" stroke="#2e303a" stroke-width="0.35">Центры</text>
<text transform="translate(1996.0,801.4) scale(1.09,1)" text-anchor="start" font-size="12.6" font-weight="normal" fill="#2e303a" stroke="#2e303a" stroke-width="0.35">детского</text>
<text transform="translate(1996.0,814.3) scale(1.09,1)" text-anchor="start" font-size="12.6" font-weight="normal" fill="#2e303a" stroke="#2e303a" stroke-width="0.35">развития</text>
<text transform="translate(1996.0,860.7) scale(1.09,1)" text-anchor="start" font-size="12.6" font-weight="normal" fill="#2e303a" stroke="#2e303a" stroke-width="0.35">Институты</text>
<text transform="translate(1996.0,873.6) scale(1.09,1)" text-anchor="start" font-size="12.6" font-weight="normal" fill="#2e303a" stroke="#2e303a" stroke-width="0.35">обществен-</text>
<text transform="translate(1996.0,886.5) scale(1.09,1)" text-anchor="start" font-size="12.6" font-weight="normal" fill="#2e303a" stroke="#2e303a" stroke-width="0.35">ной поддер-</text>
<text transform="translate(1996.0,899.4) scale(1.09,1)" text-anchor="start" font-size="12.6" font-weight="normal" fill="#2e303a" stroke="#2e303a" stroke-width="0.35">жки и ком-</text>
<text transform="translate(1996.0,912.3) scale(1.09,1)" text-anchor="start" font-size="12.6" font-weight="normal" fill="#2e303a" stroke="#2e303a" stroke-width="0.35">муникации</text>
<rect x="2089.6" y="498.9" width="58.7" height="56.3" fill="#1b1a7a"/>
<path d="M2118.8,504.8 L2139.1,515.4 L2098.9,515.4 Z" fill="#fff"/><rect x="2101.5" y="517.5" width="5.5" height="20" rx="2.5" fill="#fff"/><rect x="2115.8" y="517.5" width="5.5" height="20" rx="2.5" fill="#fff"/><rect x="2130.2" y="517.5" width="5.5" height="20" rx="2.5" fill="#fff"/><rect x="2099.2" y="540.5" width="39.5" height="5" fill="#fff"/><rect x="2111" y="540.5" width="16.5" height="5" fill="#9a9ad0"/><rect x="2111" y="547" width="16.5" height="1.5" fill="#9a9ad0"/>
<rect x="2090" y="558.7" width="58.2" height="365.6" fill="#2f86eb"/>
<text transform="translate(2111.5,740) rotate(90)" text-anchor="middle" font-size="22.35" font-weight="bold" fill="#fff">ИНСТИТУТЫ</text>
<text transform="translate(1090.2,982.0) scale(1.02,1)" text-anchor="middle" font-size="13.2" font-weight="normal" fill="#2e303a" stroke="#2e303a" stroke-width="0.35">Интеллектуальная</text>
<text transform="translate(1090.2,994.7) scale(1.02,1)" text-anchor="middle" font-size="13.2" font-weight="normal" fill="#2e303a" stroke="#2e303a" stroke-width="0.35">собственность</text>
<text transform="translate(1239.4,982.0) scale(1.02,1)" text-anchor="middle" font-size="13.2" font-weight="normal" fill="#2e303a" stroke="#2e303a" stroke-width="0.35">Инвестиции и</text>
<text transform="translate(1239.4,994.7) scale(1.02,1)" text-anchor="middle" font-size="13.2" font-weight="normal" fill="#2e303a" stroke="#2e303a" stroke-width="0.35">финансирование</text>
<text transform="translate(1388.6,982.0) scale(1.02,1)" text-anchor="middle" font-size="13.2" font-weight="normal" fill="#2e303a" stroke="#2e303a" stroke-width="0.35">Стандарты</text>
<text transform="translate(1537.8,982.0) scale(1.02,1)" text-anchor="middle" font-size="13.2" font-weight="normal" fill="#2e303a" stroke="#2e303a" stroke-width="0.35">Научная</text>
<text transform="translate(1537.8,994.7) scale(1.02,1)" text-anchor="middle" font-size="13.2" font-weight="normal" fill="#2e303a" stroke="#2e303a" stroke-width="0.35">инфраструктура</text>
<text transform="translate(1687.0,982.0) scale(1.02,1)" text-anchor="middle" font-size="13.2" font-weight="normal" fill="#2e303a" stroke="#2e303a" stroke-width="0.35">Законода-</text>
<text transform="translate(1687.0,994.7) scale(1.02,1)" text-anchor="middle" font-size="13.2" font-weight="normal" fill="#2e303a" stroke="#2e303a" stroke-width="0.35">тельство</text>
<text transform="translate(1836.2,982.0) scale(1.02,1)" text-anchor="middle" font-size="13.2" font-weight="normal" fill="#2e303a" stroke="#2e303a" stroke-width="0.35">Кадры и система</text>
<text transform="translate(1836.2,994.7) scale(1.02,1)" text-anchor="middle" font-size="13.2" font-weight="normal" fill="#2e303a" stroke="#2e303a" stroke-width="0.35">образования</text>
<rect x="1015.6" y="1012.2" width="833.7" height="55.4" fill="#8f94b6"/>
<text transform="translate(1432.7,1047.6) scale(0.99,1)" text-anchor="middle" font-size="22.8" font-weight="bold" fill="#fff">ИНФРАСТРУКТУРА / РЕСУРСЫ</text>
<rect x="1852.8" y="1011.9" width="58" height="55.6" fill="#1b1a7a"/>
<g stroke="#fff" stroke-width="2.6" fill="none"><rect x="1873.6" y="1021" width="17.6" height="11.5" rx="2"/><path d="M1866.3,1049.5 L1866.3,1037.8 L1877.5,1037.8 M1882,1034.5 L1882,1049.5 M1886.5,1037.8 L1897.7,1037.8 L1897.7,1049.5"/></g><g fill="#fff"><rect x="1860" y="1051.6" width="12.3" height="8.1"/><rect x="1875.6" y="1051.6" width="12.4" height="8.1"/><rect x="1891.3" y="1051.6" width="12.6" height="8.1"/></g>
</svg>
<div class="t" style="left:714.0px;top:1113.8px;font-size:26.5px;font-weight:normal;color:#5b5b60;font-style:italic;transform:scaleX(0.99);transform-origin:0 0;">Источник: сайт АСИ (Агентство стратегических инициатив)</div>
<svg class="abs" style="left:676px;top:1148px;" width="30" height="26"><path d="M4.5,12 L10.5,20.5 L23.5,3" stroke="#e0101a" stroke-width="1.8" fill="none"/></svg>
<div class="t" style="left:724.0px;top:1146.9px;font-size:29.2px;font-weight:bold;color:#e0101a;transform:scaleX(0.973);transform-origin:0 0;">Интернет Вещей станет связующим звеном развития новых отраслей экономики и инструментом модернизации и</div>
<div class="t" style="left:724.0px;top:1179.9px;font-size:29.2px;font-weight:bold;color:#e0101a;transform:scaleX(0.973);transform-origin:0 0;">интеграции в «Новую Экономику» старых отраслей промышленности, инфраструктуры и сферы услуг</div>
<div class="t" style="left:2270.0px;top:1213.0px;font-size:31px;font-weight:normal;color:#161628;transform:scaleX(0.95);transform-origin:0 0;">21</div>
<div class="abs" style="left:598px;top:1333px;width:1833px;height:2px;background:#c9c9c9;"></div>
<svg class="abs" style="left:690px;top:1210px;" width="100" height="65">
<path d="M8.5,57 L8.5,15.5 L43,15.5 M59.5,22.5 L59.5,55 L8.5,55" stroke="#a9a9a9" stroke-width="4.5" fill="none"/>
<circle cx="20.3" cy="28" r="6" fill="#e0141e"/>
<circle cx="44.7" cy="41.7" r="7" fill="#f0e040"/>
<circle cx="54.2" cy="8.3" r="6" fill="#3b4cab"/>
</svg>
<div class="t" style="left:763.0px;top:1221.0px;font-size:22.8px;font-weight:bold;color:#53535c;transform:scaleX(1.04);transform-origin:0 0;-webkit-text-stroke:0.6px #53535c;">J’son <span style="color:#4b5695;-webkit-text-stroke:0.6px #4b5695">&amp;</span> Partners</div>
<div class="t" style="left:757.0px;top:1247.5px;font-size:14.5px;font-weight:bold;color:#9c9c9c;transform:scaleX(1.107);transform-origin:0 0;-webkit-text-stroke:0.3px #9c9c9c;">Management Consultancy</div>
</body></html>
